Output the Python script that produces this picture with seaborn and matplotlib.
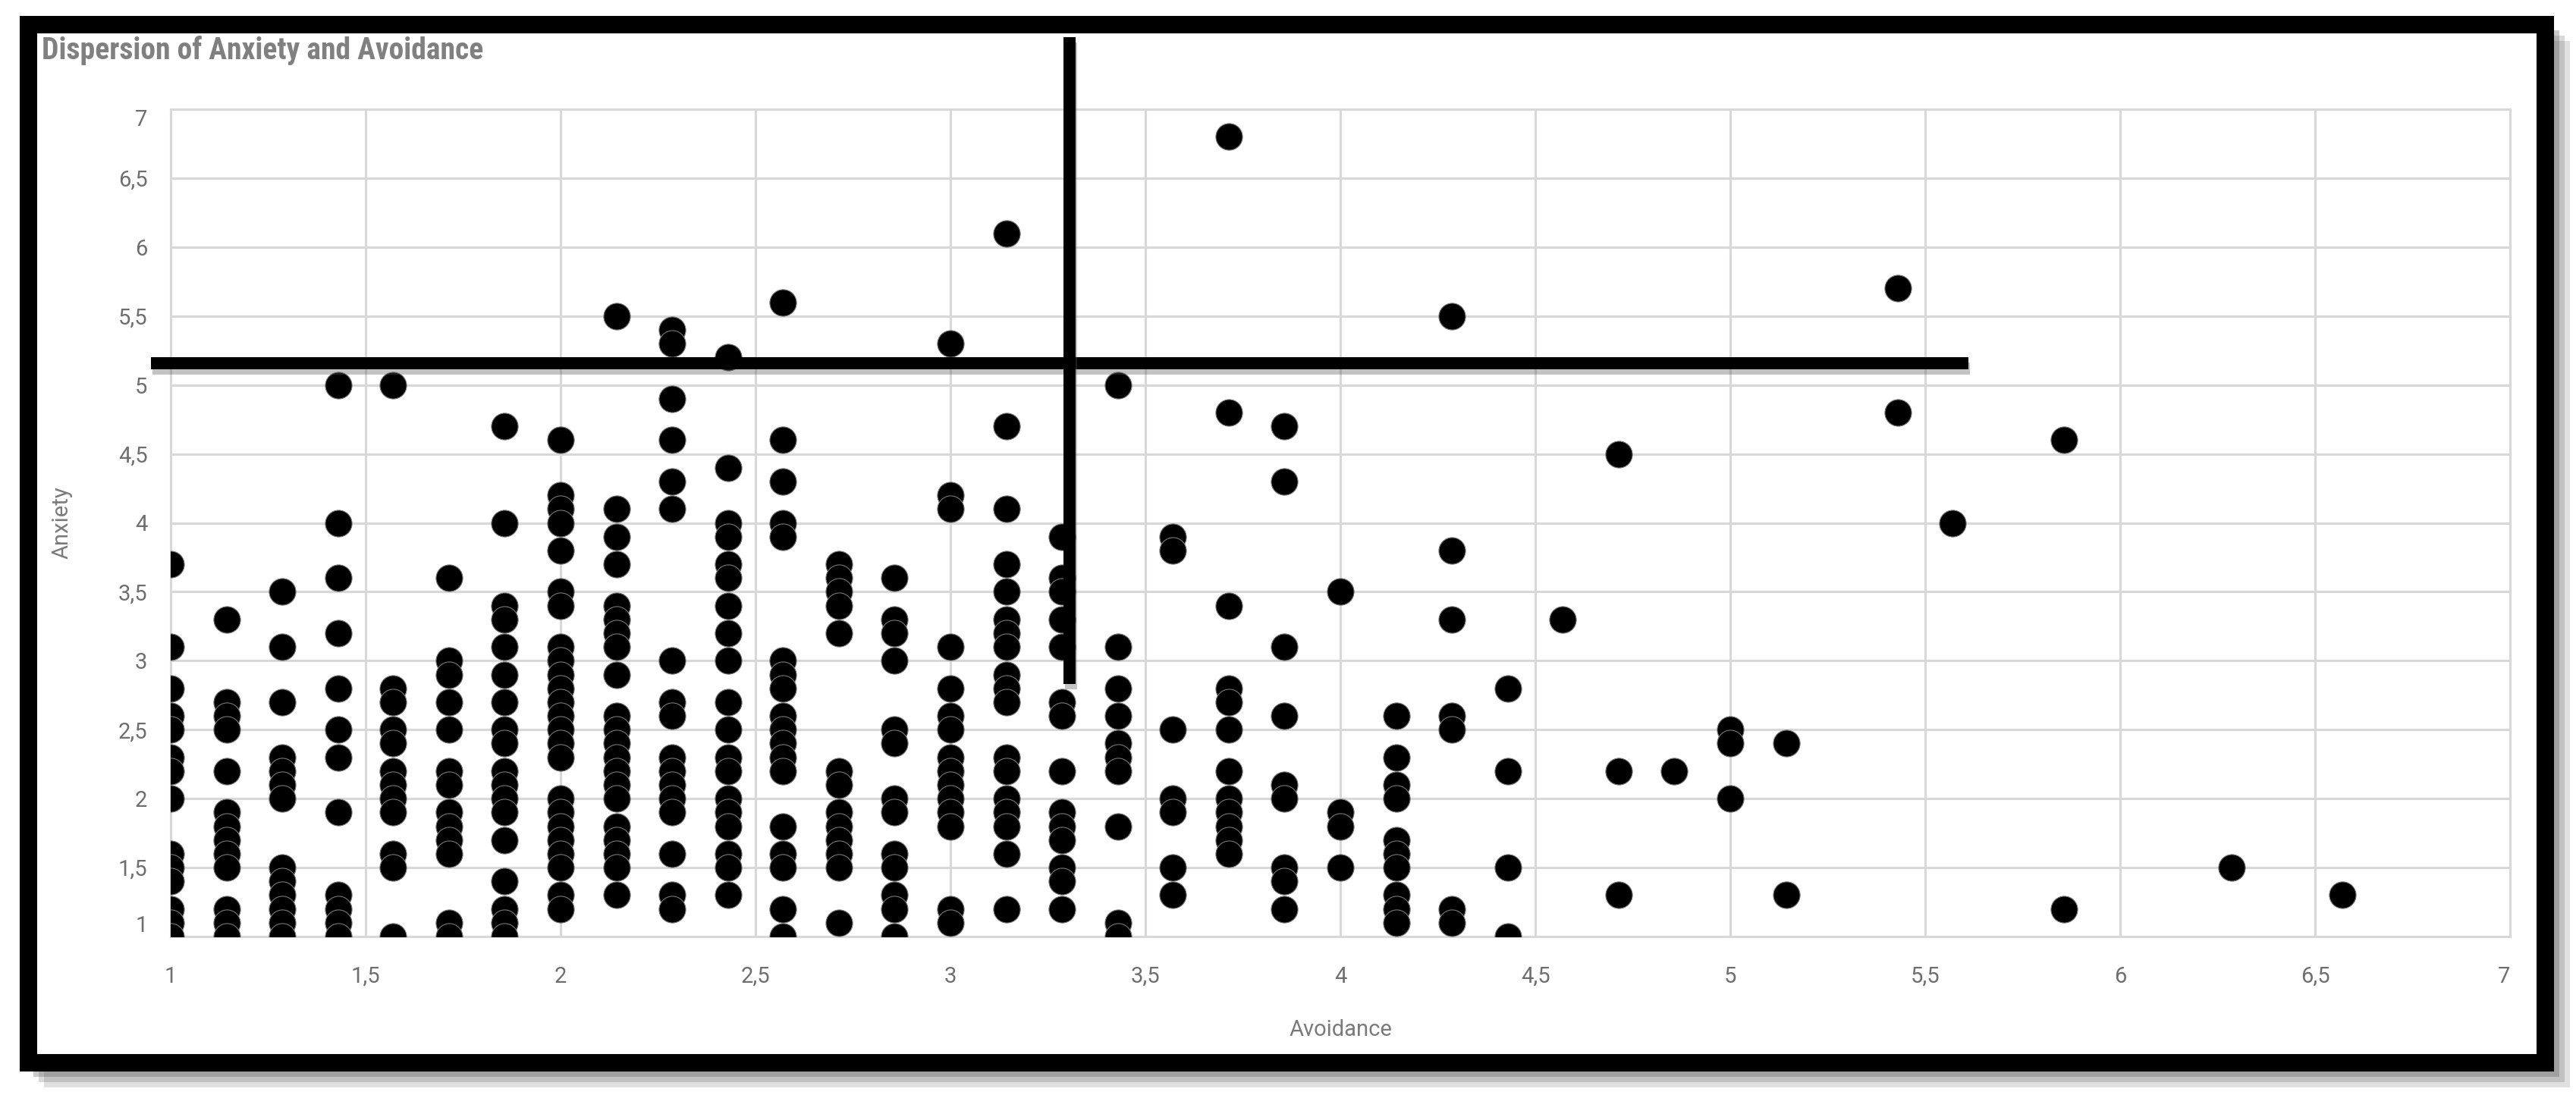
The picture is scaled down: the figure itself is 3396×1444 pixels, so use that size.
import pandas as pd
import matplotlib.pyplot as plt
import matplotlib.patheffects as pe
from matplotlib.patches import Rectangle
import seaborn as sns

# avoidance score levels (items averaged over 7) and the anxiety scores seen at each level
avoidance_levels = [
    1.000, 1.143, 1.286, 1.429, 1.571, 1.714, 1.857, 2.000, 2.143, 2.286,
    2.429, 2.571, 2.714, 2.857, 3.000, 3.143, 3.286, 3.429, 3.571, 3.714,
    3.857, 4.000, 4.143, 4.286, 4.429, 4.571, 4.714, 4.857, 5.000, 5.143,
    5.429, 5.571, 5.857, 6.286, 6.571,
]
anxiety_values = [
    [3.7, 3.1, 2.8, 2.6, 2.5, 2.3, 2.2, 2.0, 1.6, 1.5, 1.4, 1.2, 1.1, 1.0],
    [3.3, 2.7, 2.6, 2.5, 2.2, 1.9, 1.8, 1.7, 1.6, 1.5, 1.2, 1.1, 1.0],
    [3.5, 3.1, 2.7, 2.3, 2.2, 2.1, 2.0, 1.5, 1.4, 1.3, 1.2, 1.1, 1.0],
    [5.0, 4.0, 3.6, 3.2, 2.8, 2.5, 2.3, 1.9, 1.3, 1.2, 1.1, 1.0],
    [5.0, 2.8, 2.7, 2.5, 2.4, 2.2, 2.1, 2.0, 1.9, 1.6, 1.5, 1.0],
    [3.6, 3.0, 2.9, 2.7, 2.5, 2.2, 2.1, 1.9, 1.8, 1.7, 1.6, 1.1, 1.0],
    [4.7, 4.0, 3.4, 3.3, 3.1, 2.9, 2.7, 2.5, 2.4, 2.2, 2.1, 2.0, 1.9, 1.7,
     1.4, 1.2, 1.1, 1.0],
    [4.6, 4.2, 4.1, 4.0, 3.8, 3.5, 3.4, 3.1, 3.0, 2.9, 2.8, 2.7, 2.6, 2.5,
     2.4, 2.3, 2.0, 1.9, 1.8, 1.7, 1.6, 1.5, 1.3, 1.2],
    [5.5, 4.1, 3.9, 3.7, 3.4, 3.3, 3.2, 3.1, 2.9, 2.6, 2.5, 2.4, 2.3, 2.2,
     2.1, 2.0, 1.8, 1.7, 1.6, 1.5, 1.3],
    [5.4, 5.3, 4.9, 4.6, 4.3, 4.1, 3.0, 2.7, 2.6, 2.3, 2.2, 2.1, 2.0, 1.9,
     1.6, 1.3, 1.2],
    [5.2, 4.4, 4.0, 3.9, 3.7, 3.6, 3.4, 3.2, 3.0, 2.7, 2.5, 2.3, 2.2, 2.0,
     1.9, 1.8, 1.6, 1.5, 1.3],
    [5.6, 4.6, 4.3, 4.0, 3.9, 3.0, 2.9, 2.8, 2.6, 2.5, 2.4, 2.3, 2.2, 1.8,
     1.6, 1.5, 1.2, 1.0],
    [3.7, 3.6, 3.5, 3.4, 3.2, 2.2, 2.1, 1.9, 1.8, 1.7, 1.6, 1.5, 1.1],
    [3.6, 3.3, 3.2, 3.0, 2.5, 2.4, 2.0, 1.9, 1.6, 1.5, 1.3, 1.2, 1.0],
    [5.3, 4.2, 4.1, 3.1, 2.8, 2.6, 2.5, 2.3, 2.2, 2.1, 2.0, 1.9, 1.8, 1.2, 1.1],
    [6.1, 4.7, 4.1, 3.7, 3.5, 3.3, 3.2, 3.1, 2.9, 2.8, 2.7, 2.3, 2.2, 2.0,
     1.9, 1.8, 1.6, 1.2],
    [3.9, 3.6, 3.5, 3.3, 3.1, 2.7, 2.6, 2.2, 1.9, 1.8, 1.7, 1.5, 1.4, 1.2],
    [5.0, 3.1, 2.8, 2.6, 2.4, 2.3, 2.2, 1.8, 1.1, 1.0],
    [3.9, 3.8, 2.5, 2.0, 1.9, 1.5, 1.3],
    [6.8, 4.8, 3.4, 2.8, 2.7, 2.5, 2.2, 2.0, 1.9, 1.8, 1.7, 1.6],
    [4.7, 4.3, 3.1, 2.6, 2.1, 2.0, 1.5, 1.4, 1.2],
    [3.5, 1.9, 1.8, 1.5],
    [2.6, 2.3, 2.1, 2.0, 1.7, 1.6, 1.5, 1.3, 1.2, 1.1],
    [5.5, 3.8, 3.3, 2.6, 2.5, 1.2, 1.1],
    [2.8, 2.2, 1.5, 1.0],
    [3.3],
    [4.5, 2.2, 1.3],
    [2.2],
    [2.5, 2.4, 2.0],
    [2.4, 1.3],
    [5.7, 4.8],
    [4.0],
    [4.6, 1.2],
    [1.5],
    [1.3],
]

x_ticks = [1, 1.5, 2, 2.5, 3, 3.5, 4, 4.5, 5, 5.5, 6, 6.5, 7]
x_tick_labels = ["1", "1,5", "2", "2,5", "3", "3,5", "4", "4,5", "5", "5,5", "6", "6,5", "7"]
y_ticks = [1, 1.5, 2, 2.5, 3, 3.5, 4, 4.5, 5, 5.5, 6, 6.5, 7]
y_tick_labels = ["1", "1,5", "2", "2,5", "3", "3,5", "4", "4,5", "5", "5,5", "6", "6,5", "7"]

# hand drawn cut-off lines on top of the chart
anxiety_cut = 5.16
avoidance_cut = 3.305

rows = [(a, v) for a, vals in zip(avoidance_levels, anxiety_values) for v in vals]
df = pd.DataFrame(rows, columns=["Avoidance", "Anxiety"])

sns.set_style("white")
plt.rcParams["font.family"] = ["Roboto", "DejaVu Sans"]

W, H = 3396, 1444
fig = plt.figure(figsize=(W / 100, H / 100), dpi=100)

# outer frame with a soft drop shadow
for off, alpha in [(22, 0.18), (15, 0.22), (8, 0.3)]:
    fig.add_artist(Rectangle((36 / W + off / W, 1 - 1412 / H - off / H), (3366 - 36) / W, (1412 - 32) / H,
                             transform=fig.transFigure, facecolor="#555555", edgecolor="none",
                             alpha=alpha, zorder=-3))
fig.add_artist(Rectangle((25 / W, 1 - 1412 / H), (3366 - 25) / W, (1412 - 20) / H,
                         transform=fig.transFigure, facecolor="white", edgecolor="none", zorder=-2))
fig.add_artist(Rectangle((36.5 / W, 1 - 1400.5 / H), (3354.5 - 36.5) / W, (1400.5 - 31.5) / H,
                         transform=fig.transFigure, fill=False, edgecolor="black",
                         linewidth=16.6, joinstyle="miter", zorder=5))

ax = fig.add_axes([225 / W, 1 - 1235 / H, (3309 - 225) / W, (1235 - 144) / H])
ax.set_facecolor("white")

sns.scatterplot(data=df, x="Avoidance", y="Anxiety", color="black", s=640,
                edgecolor="#777777", linewidth=0.8, ax=ax, zorder=3)

ax.set_xlim(1, 7)
ax.set_ylim(1, 7)
ax.set_xticks(x_ticks)
ax.set_xticklabels(x_tick_labels)
ax.set_yticks(y_ticks)
ax.set_yticklabels(y_tick_labels)
ax.set_axisbelow(True)
ax.grid(True, color="#d8d8d8", linewidth=2.2)
for s in ax.spines.values():
    s.set_color("#d8d8d8")
    s.set_linewidth(2.2)

ax.tick_params(axis="both", colors="#d8d8d8", labelcolor="#6e6e6e", labelsize=21,
               length=14, width=2.2)
ax.tick_params(axis="x", pad=14)
ax.tick_params(axis="y", pad=8)
xl = ax.get_xticklabels()
xl[-1].set_ha("right")
yl = ax.get_yticklabels()
yl[0].set_va("bottom")
yl[-1].set_va("top")

ax.set_xlabel("Avoidance", fontsize=21, color="#7a7a7a")
ax.set_ylabel("Anxiety", fontsize=21, color="#7a7a7a")
ax.xaxis.set_label_coords(0.5, (1235 - 1358) / (1235 - 144))
ax.xaxis.label.set_va("center")
ax.yaxis.set_label_coords((82 - 225) / (3309 - 225), 0.5)
ax.yaxis.label.set_va("center")

fig.text(55 / W, 1 - 67 / H, "Dispersion of Anxiety and Avoidance", fontsize=28.5,
         fontweight="bold", color="#808080", ha="left", va="center",
         family=["Roboto Condensed", "Liberation Sans Narrow", "Roboto", "DejaVu Sans"])

shadow = [pe.SimpleLineShadow(offset=(1.5, -5), shadow_color="#555555", alpha=0.35), pe.Normal()]
ax.plot([0.95, 5.61], [anxiety_cut, anxiety_cut], color="black", linewidth=11.5,
        solid_capstyle="butt", clip_on=False, zorder=6, path_effects=shadow)
ax.plot([avoidance_cut, avoidance_cut], [2.83, 7.52], color="black", linewidth=11.5,
        solid_capstyle="butt", clip_on=False, zorder=6, path_effects=shadow)

fig.savefig("out.png", dpi=100, facecolor="white")
